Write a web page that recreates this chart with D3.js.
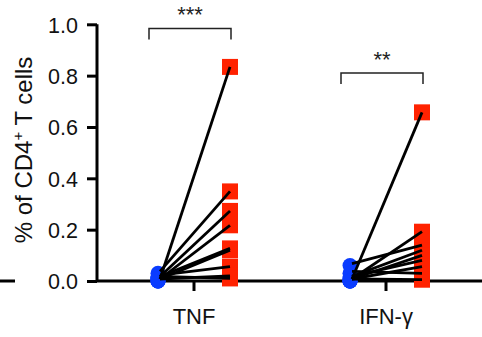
<!DOCTYPE html>
<html><head><meta charset="utf-8">
<script src="https://cdn.jsdelivr.net/npm/d3@7"></script>
<style>body{margin:0;background:#fff}svg{display:block}text{font-family:"Liberation Sans",Arial,sans-serif}</style>
</head><body><svg width="482" height="337"></svg>
<script>
const categories = ["TNF", "IFN-γ"];
const tnfBefore = [0.00, 0.03, 0.01, 0.00, 0.01, 0.00, 0.015, 0.00, 0.01];
const tnfAfter  = [0.834, 0.349, 0.273, 0.217, 0.127, 0.12, 0.056, 0.02, 0.01];
const ifnBefore = [0.00, 0.00, 0.06, 0.01, 0.00, 0.01, 0.00, 0.03, 0.00];
const ifnAfter  = [0.657, 0.192, 0.14, 0.12, 0.10, 0.08, 0.056, 0.03, 0.005];
const yTicks = [0, 0.2, 0.4, 0.6, 0.8, 1.0];
const significance = ["***", "**"];
const bracketLevels = [0.984, 0.81];

const svg = d3.select("svg");
const y = d3.scaleLinear().domain([0, 1]).range([281, 24.3]);
const x = d3.scaleBand().domain(categories).range([98, 482]);
const off = 36;
const series = [[tnfBefore, tnfAfter], [ifnBefore, ifnAfter]];

// stray dash at left
svg.append("line").attr("x1", 0).attr("x2", 15).attr("y1", y(0)).attr("y2", y(0))
  .attr("stroke", "#000").attr("stroke-width", 3);

// y axis
const ya = svg.append("g").attr("transform", "translate(97,0)")
  .call(d3.axisLeft(y).tickValues(yTicks).tickFormat(d3.format(".1f")).tickSize(10).tickPadding(9));
ya.select(".domain").attr("stroke-width", 3).attr("d", `M0,${y(1)}V${y(0)}`);
ya.selectAll(".tick line").attr("stroke-width", 3);
ya.selectAll("text").attr("font-size", 21.5).attr("fill", "#111").attr("dy", "0.36em");

// x axis
const xa = svg.append("g").attr("transform", `translate(0,${y(0)})`)
  .call(d3.axisBottom(x).tickSize(10).tickPadding(17));
xa.select(".domain").attr("stroke-width", 3).attr("d", "M97,0H482");
xa.selectAll(".tick line").attr("stroke-width", 3);
xa.selectAll("text").attr("font-size", 22).attr("fill", "#111");

// markers
categories.forEach((c, i) => {
  const cx = x(c) + x.bandwidth() / 2;
  const [b, a] = series[i];
  svg.append("g").selectAll("rect").data(a).join("rect")
    .attr("x", cx + off - 8).attr("y", d => y(d) - 8).attr("width", 16).attr("height", 16)
    .attr("fill", "#ff2200");
  svg.append("g").selectAll("circle").data(b).join("circle")
    .attr("cx", cx - off).attr("cy", d => y(d)).attr("r", 7.5).attr("fill", "#0a3cff");
  svg.append("g").selectAll("line").data(d3.range(b.length)).join("line")
    .attr("x1", cx - off + 2).attr("y1", j => y(b[j]) - 2)
    .attr("x2", cx + off).attr("y2", j => y(a[j]))
    .attr("stroke", "#000").attr("stroke-width", 2.8);
  // bracket
  const by = y(bracketLevels[i]);
  svg.append("path")
    .attr("d", `M${cx - off - 9},${by + 11}V${by}H${cx + off + 1}V${by + 11}`)
    .attr("fill", "none").attr("stroke", "#222").attr("stroke-width", 1.5);
  svg.append("text").attr("x", (cx - off - 9 + cx + off + 1) / 2).attr("y", by - 6)
    .attr("text-anchor", "middle").attr("font-size", 22).attr("fill", "#222")
    .text(significance[i]);
});

// y label
svg.append("text").attr("transform", "translate(32,150) rotate(-90)")
  .attr("text-anchor", "middle").attr("font-size", 24).attr("fill", "#111")
  .html('% of CD4<tspan dy="-9" font-size="15">+</tspan><tspan dy="9"> T cells</tspan>');
</script></body></html>
